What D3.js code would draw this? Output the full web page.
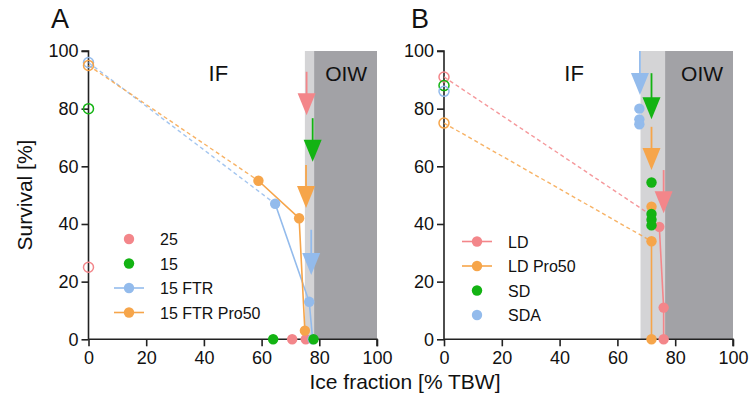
<!DOCTYPE html>
<html>
<head>
<meta charset="utf-8">
<script src="https://cdn.jsdelivr.net/npm/d3@7"></script>
<style>
  body { margin: 0; background: #fff; }
  svg { font-family: "Liberation Sans", Arial, sans-serif; }
</style>
</head>
<body>
<script>
// ---- data ----
var xTicks = [0, 20, 40, 60, 80, 100];
var yTicks = [0, 20, 40, 60, 80, 100];

var colors = {pink: "#f3868a", green: "#13b313", blue: "#93bbec", orange: "#f6a54a"};

// zones: [start, end] in % TBW
var zonesA = {light: [75, 78.2], dark: [78.2, 100]};
var zonesB = {light: [68, 76.5], dark: [76.5, 100]};

// panel A
var openA = [
  {x: 0, y: 96, c: "blue"}, {x: 0, y: 95, c: "orange"},
  {x: 0, y: 80, c: "green"}, {x: 0, y: 25, c: "pink"}
];
var dashedA = [
  {c: "blue", pts: [[0, 96], [64.7, 47]]},
  {c: "orange", pts: [[0, 95], [58.9, 55]]}
];
var ftrA = [[64.7, 47], [76.5, 13], [77.7, 0]];
var ftrPro50A = [[58.9, 55], [73, 42], [75, 3]];
var s25A = [[70.6, 0], [75.3, 0]];
var s15A = [[64, 0], [78, 0]];
var arrowsA = [
  {c: "pink", x: 75.6, top: 92.8, tip: 77.7},
  {c: "green", x: 77.7, top: 76.7, tip: 61.6},
  {c: "orange", x: 75.4, top: 60.5, tip: 45.5},
  {c: "blue", x: 77.2, top: 38, tip: 22.3}
];
var legendA = [
  {label: "25", c: "pink", line: false},
  {label: "15", c: "green", line: false},
  {label: "15 FTR", c: "blue", line: true},
  {label: "15 FTR Pro50", c: "orange", line: true}
];

// panel B
var openB = [
  {x: 0, y: 91, c: "pink"}, {x: 0, y: 88, c: "green"},
  {x: 0, y: 86, c: "blue"}, {x: 0, y: 75, c: "orange"}
];
var dashedB = [
  {c: "pink", pts: [[0, 91], [71, 43.5]]},
  {c: "orange", pts: [[0, 75], [71.8, 34]]}
];
var ldB = [[74.5, 39], [76, 11], [76, 0]];
var ldPro50B = [[71.8, 34], [71.8, 0]];
var ldPro50ExtraB = [[71.8, 46]];
var sdB = [[71.8, 54.4], [71.8, 43.5], [71.8, 41.5], [71.8, 39.5]];
var sdaB = [[67.6, 80], [67.6, 76.3], [67.6, 74.6]];
var arrowsB = [
  {c: "blue", x: 67.8, top: 100, tip: 84.7},
  {c: "green", x: 71.8, top: 92.3, tip: 76.3},
  {c: "orange", x: 71.8, top: 73.7, tip: 58.7},
  {c: "pink", x: 76, top: 58.7, tip: 43.7}
];
var legendB = [
  {label: "LD", c: "pink", line: true},
  {label: "LD Pro50", c: "orange", line: true},
  {label: "SD", c: "green", line: false},
  {label: "SDA", c: "blue", line: false}
];

// ---- drawing ----
var W = 751, H = 408;
var svg = d3.select("body").append("svg").attr("width", W).attr("height", H);

var y = d3.scaleLinear().domain([0, 100]).range([339.3, 51]);

function drawPanel(x0, x1, label, labelX, zones, opens, dashed, solids, dots, arrows, legend, legX, legY) {
  var x = d3.scaleLinear().domain([0, 100]).range([x0, x1]);
  var g = svg.append("g");

  // shaded zones
  g.append("rect").attr("x", x(zones.light[0])).attr("y", y(100))
    .attr("width", x(zones.light[1]) - x(zones.light[0])).attr("height", y(0) - y(100))
    .attr("fill", "#d4d4d6");
  g.append("rect").attr("x", x(zones.dark[0])).attr("y", y(100))
    .attr("width", x(zones.dark[1]) - x(zones.dark[0])).attr("height", y(0) - y(100))
    .attr("fill", "#a2a2a6");

  g.append("text").attr("x", x(45)).attr("y", y(89.5)).attr("text-anchor", "middle")
    .attr("font-size", 22).attr("fill", "#111").text("IF");
  g.append("text").attr("x", x(89.3)).attr("y", y(89.5)).attr("text-anchor", "middle")
    .attr("font-size", 21).attr("fill", "#111").text("OIW");

  // axes
  var xa = g.append("g").attr("transform", "translate(0," + y(0) + ")")
    .call(d3.axisBottom(x).tickValues(xTicks).tickSize(7).tickPadding(5));
  var ya = g.append("g").attr("transform", "translate(" + x(0) + ",0)")
    .call(d3.axisLeft(y).tickValues(yTicks).tickSize(7).tickPadding(3));
  [xa, ya].forEach(function(a) {
    a.select(".domain").attr("stroke", "#222").attr("stroke-width", 1.6);
    a.selectAll(".tick line").attr("stroke", "#222").attr("stroke-width", 1.6);
    a.selectAll("text").attr("font-size", 18).attr("fill", "#111")
      .attr("font-family", "Liberation Sans, Arial, sans-serif");
  });
  xa.select(".domain").attr("d", "M" + x(0) + ",0H" + x(100) + "V7");
  ya.select(".domain").attr("d", "M-7," + y(100) + "H0V" + y(0));

  var line = d3.line().x(function(d) { return x(d[0]); }).y(function(d) { return y(d[1]); });

  // dashed
  dashed.forEach(function(s) {
    g.append("path").attr("d", line(s.pts)).attr("fill", "none")
      .attr("stroke", colors[s.c]).attr("stroke-width", 1.4)
      .attr("stroke-dasharray", "4,3").attr("opacity", 0.85);
  });
  // open circles
  g.selectAll(null).data(opens).enter().append("circle")
    .attr("cx", function(d) { return x(d.x); }).attr("cy", function(d) { return y(d.y); })
    .attr("r", 5).attr("fill", "none").attr("stroke", function(d) { return colors[d.c]; })
    .attr("stroke-width", 1.5);

  // solid series
  solids.forEach(function(s) {
    g.append("path").attr("d", line(s.pts)).attr("fill", "none")
      .attr("stroke", colors[s.c]).attr("stroke-width", 1.6);
  });
  dots.forEach(function(s) {
    g.selectAll(null).data(s.pts).enter().append("circle")
      .attr("cx", function(d) { return x(d[0]); }).attr("cy", function(d) { return y(d[1]); })
      .attr("r", 5.2).attr("fill", colors[s.c]);
  });

  // arrows
  arrows.forEach(function(a) {
    var tx = x(a.x), ty = y(a.tip);
    g.append("line").attr("x1", tx).attr("x2", tx).attr("y1", y(a.top)).attr("y2", ty - 10)
      .attr("stroke", colors[a.c]).attr("stroke-width", 1.8);
    g.append("path").attr("d", "M" + (tx - 9) + "," + (ty - 22) + "L" + (tx + 9) + "," + (ty - 22) + "L" + tx + "," + ty + "Z")
      .attr("fill", colors[a.c]);
  });

  // legend
  legend.forEach(function(l, i) {
    var ly = legY + i * 24.5;
    if (l.line) {
      g.append("line").attr("x1", legX - 15).attr("x2", legX + 15).attr("y1", ly).attr("y2", ly)
        .attr("stroke", colors[l.c]).attr("stroke-width", 1.6);
    }
    g.append("circle").attr("cx", legX).attr("cy", ly).attr("r", 5.2).attr("fill", colors[l.c]);
    g.append("text").attr("x", legX + 31).attr("y", ly + 6).attr("font-size", 16)
      .attr("fill", "#111").text(l.label);
  });

  svg.append("text").attr("x", labelX).attr("y", 28).attr("text-anchor", "middle")
    .attr("font-size", 27).attr("fill", "#111").text(label);
}

drawPanel(88.5, 377, "A", 60, zonesA, openA, dashedA,
  [{c: "blue", pts: ftrA}, {c: "orange", pts: ftrPro50A}],
  [{c: "pink", pts: s25A}, {c: "blue", pts: ftrA}, {c: "orange", pts: ftrPro50A}, {c: "green", pts: s15A}],
  arrowsA, legendA, 129, 239);

drawPanel(444, 733, "B", 420, zonesB, openB, dashedB,
  [{c: "pink", pts: ldB}, {c: "orange", pts: ldPro50B}],
  [{c: "blue", pts: sdaB}, {c: "pink", pts: ldB}, {c: "orange", pts: ldPro50B.concat(ldPro50ExtraB)}, {c: "green", pts: sdB}],
  arrowsB, legendB, 477, 241.5);

svg.append("text").attr("transform", "translate(32,195) rotate(-90)")
  .attr("text-anchor", "middle").attr("font-size", 21).attr("fill", "#111").text("Survival [%]");
svg.append("text").attr("x", 405).attr("y", 389)
  .attr("text-anchor", "middle").attr("font-size", 21).attr("fill", "#111").text("Ice fraction [% TBW]");
</script>
</body>
</html>
